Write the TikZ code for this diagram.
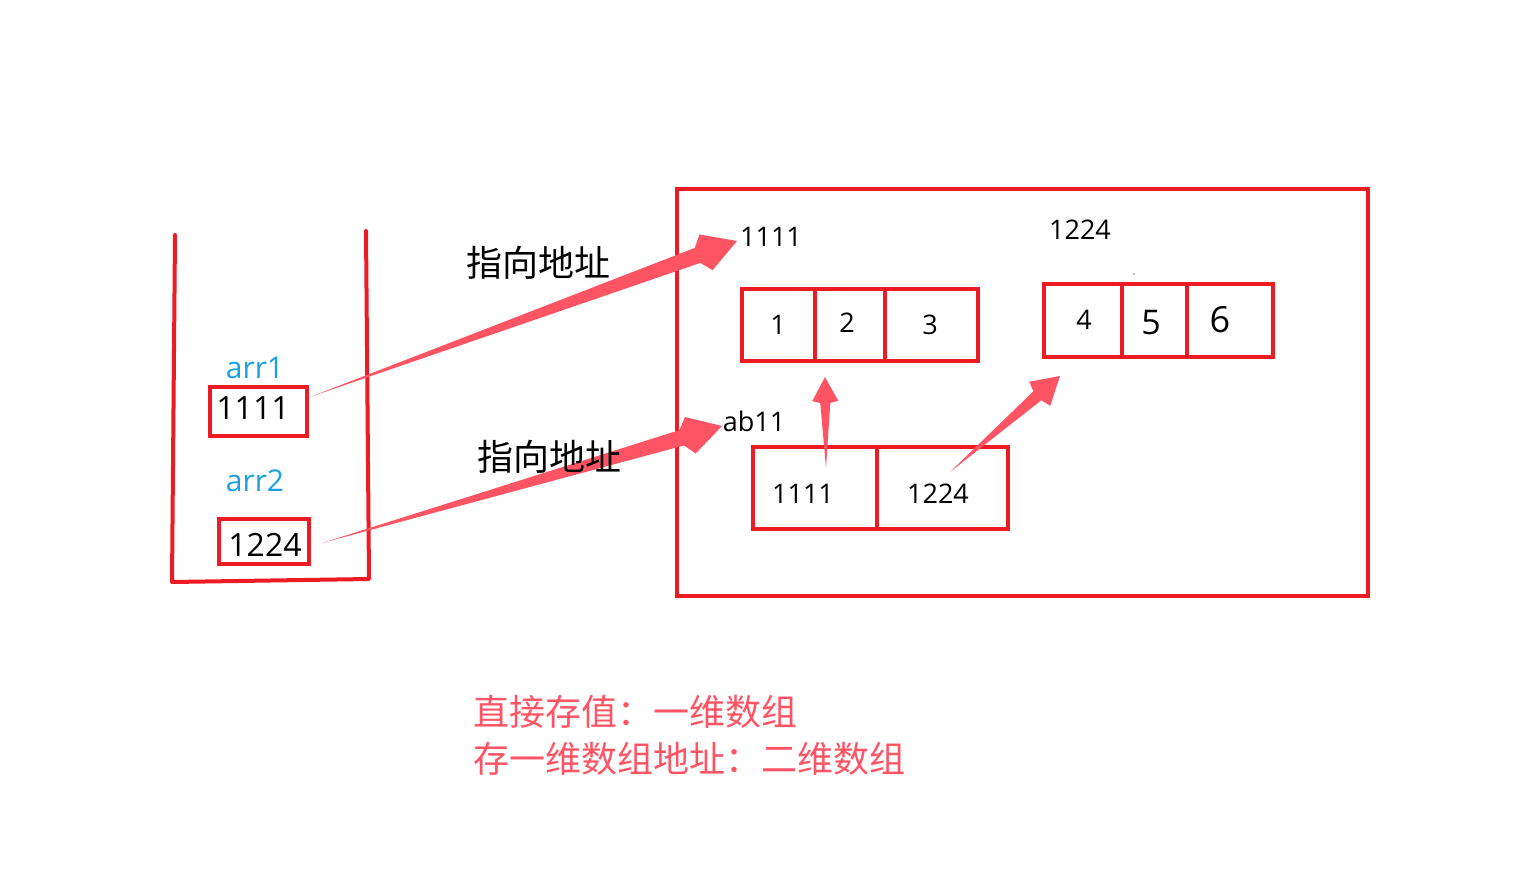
\documentclass[tikz,border=0pt]{standalone}
\usepackage{fontspec}
\setmainfont{Open Sans}
\newfontfamily\cjk{Noto Sans CJK SC}
\usetikzlibrary{calc}
\definecolor{boxred}{HTML}{ED1C24}
\definecolor{arrowred}{HTML}{FF5464}
\definecolor{lblue}{HTML}{1BA1E2}
\tikzset{
  redline/.style={draw=boxred, line width=4pt},
  cellbox/.style={redline, rectangle, inner sep=0pt},
  txt/.style={inner sep=0pt, text=black},
  bigtxt/.style={txt, font=\fontsize{32}{36}\selectfont},
  midtxt/.style={txt, font=\fontsize{27}{32}\selectfont},
  bluetxt/.style={inner sep=0pt, text=lblue, font=\fontsize{30}{34}\selectfont},
  cjktxt/.style={inner sep=0pt, text=black, font=\cjk\fontsize{36}{40}\selectfont},
  notetxt/.style={inner sep=0pt, text=arrowred, font=\cjk\fontsize{36}{40}\selectfont, anchor=west},
}
% tail, tip, half shaft, junction back, barb back, barb half (all in pt)
\newcommand\taper[6]{%
  \coordinate (tj) at ($(#2)!#4pt!(#1)$);
  \coordinate (tk) at ($(#2)!#5pt!(#1)$);
  \fill[arrowred] (#1) -- ($(tj)!#3pt!90:(#2)$) -- ($(tk)!#6pt!90:(#2)$) -- (#2)
    -- ($(tk)!#6pt!-90:(#2)$) -- ($(tj)!#3pt!-90:(#2)$) -- cycle;
}
\begin{document}
\begin{tikzpicture}[x=1pt, y=-1pt]
\useasboundingbox[fill=white] (0,0) rectangle (1524,883);

% stack
\draw[redline, line cap=round, line join=round] (175,235) -- (172,582) -- (369,579) -- (366,231);
\node[bluetxt] (n1) at (255,368) {arr1};
\node[cellbox, minimum width=97, minimum height=49] (a1) at (258.5,411.5) {};
\node[bigtxt] (a1t) at (253,408) {1111};
\node[bluetxt] (n2) at (255,481) {arr2};
\node[cellbox, minimum width=90, minimum height=45] (a2) at (264,541.5) {};
\node[bigtxt] (a2t) at (265,545) {1224};

% heap
\node[cellbox, minimum width=691, minimum height=407] (heap) at (1022.5,392.5) {};
\node[midtxt] (h1) at (771,237) {1111};
\node[midtxt] (h2) at (1080,230) {1224};
\node[midtxt] (hab) at (754,421) {ab11};
\fill[black] (1134,274) circle (0.7);

% array 1
\node[cellbox, minimum width=73, minimum height=72] (c1) at (778.5,325) {};
\node[cellbox, minimum width=70, minimum height=72] (c2) at (850,325) {};
\node[cellbox, minimum width=93, minimum height=72] (c3) at (931.5,325) {};
\node[midtxt] (t1) at (778,325) {1};
\node[midtxt] (t2) at (847,323) {2};
\node[midtxt] (t3) at (930,325) {3};

% array 2
\node[cellbox, minimum width=78, minimum height=73] (c4) at (1083,320.5) {};
\node[cellbox, minimum width=65, minimum height=73] (c5) at (1154.5,320.5) {};
\node[cellbox, minimum width=86, minimum height=73] (c6) at (1230,320.5) {};
\node[midtxt] (t4) at (1084,320) {4};
\node[bigtxt, font=\fontsize{34}{38}\selectfont] (t5) at (1151,323) {5};
\node[bigtxt, font=\fontsize{36}{40}\selectfont] (t6) at (1220,320) {6};

% array ab
\node[cellbox, minimum width=124, minimum height=82] (c7) at (815,488) {};
\node[cellbox, minimum width=131, minimum height=82] (c8) at (942.5,488) {};
\node[midtxt] (t7) at (803,494) {1111};
\node[midtxt] (t8) at (938,494) {1224};

% arrows
\coordinate (s1) at (310,397);
\coordinate (e1) at (737,241);
\coordinate (s2) at (322,543);
\coordinate (e2) at (722,426);
\coordinate (s3) at (826,468);
\coordinate (e3) at (825,377);
\coordinate (s4) at (950,472);
\coordinate (e4) at (1060,376);
\taper{s1}{e1}{8}{42}{33}{19}
\taper{s2}{e2}{8}{42}{33}{19}
\taper{s3}{e3}{5}{26}{24}{13}
\taper{s4}{e4}{6}{30}{27}{16}

% labels (drawn over the arrows)
\node[cjktxt] (p1) at (538,263) {指向地址};
\node[cjktxt] (p2) at (549,457) {指向地址};

% notes
\node[notetxt] (m1) at (473,712) {直接存值：一维数组};
\node[notetxt] (m2) at (473,759) {存一维数组地址：二维数组};
\end{tikzpicture}
\end{document}
